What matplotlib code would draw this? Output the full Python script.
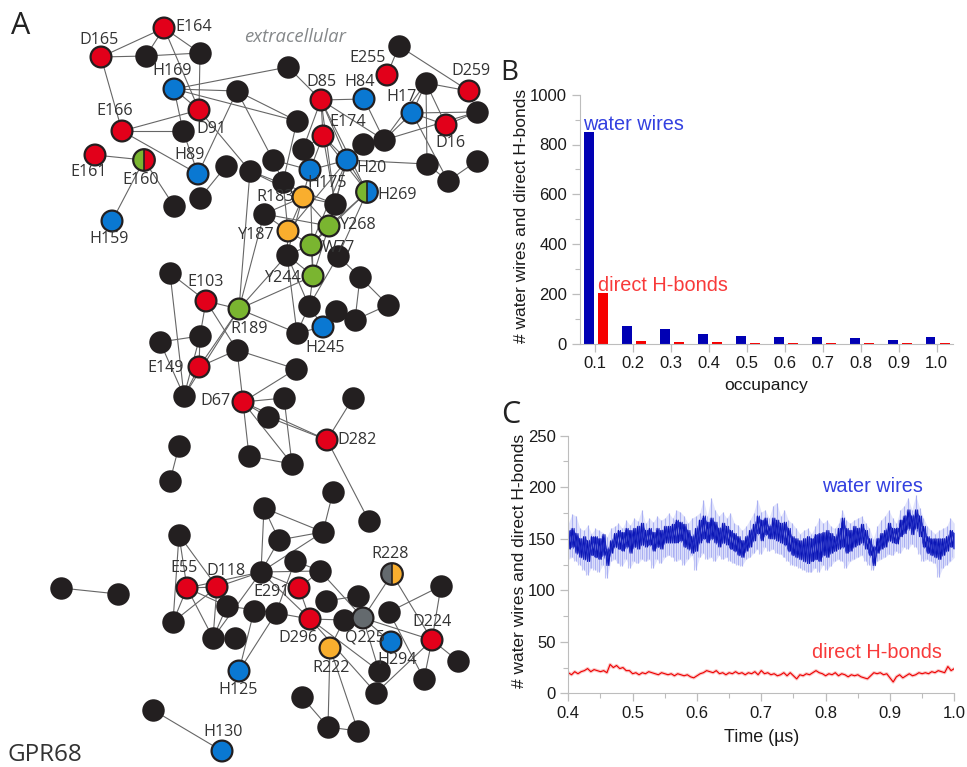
import numpy as np
import matplotlib
matplotlib.use('Agg')
import matplotlib.pyplot as plt
from matplotlib.patches import Wedge

RED = '#e2001a'
BLUE = '#0a78d2'
GREEN = '#7ab530'
ORANGE = '#f9ae2e'
GRAY = '#646a6e'
BLACK = '#231f20'

# panel A: residues, position in the picture in pixels
res_names = ['E164', 'D165', 'H169', 'D91', 'E166', 'E161', 'H89', 'H159', 'D85', 'H84', 'E174', 'H175', 'H20',
             'H17', 'D16', 'D259', 'E255', 'R183', 'Y268', 'Y187', 'W77', 'Y244', 'H245', 'R189', 'E103', 'E149',
             'D67', 'D282', 'E55', 'D118', 'E291', 'D296', 'Q225', 'D224', 'H294', 'R222', 'H125', 'H130']
res_x = [164, 101, 174, 199, 122, 95, 198, 112, 321, 364, 323, 310, 347,
         412, 446, 469, 387, 303, 329, 288, 311, 313, 323, 239, 206, 199,
         243, 327, 187, 217, 299, 310, 363, 432, 391, 330, 239, 222]
res_y = [28, 57, 89, 110, 131, 155, 174, 221, 100, 99, 136, 170, 160,
         113, 125, 91, 75, 197, 226, 231, 245, 276, 327, 309, 301, 367,
         402, 440, 588, 587, 588, 619, 618, 640, 642, 648, 671, 751]
res_colors = [RED, RED, BLUE, RED, RED, RED, BLUE, BLUE, RED, BLUE, RED, BLUE, BLUE,
              BLUE, RED, RED, RED, ORANGE, GREEN, ORANGE, GREEN, GREEN, BLUE, GREEN, RED, RED,
              RED, RED, RED, RED, RED, RED, GRAY, RED, BLUE, ORANGE, BLUE, BLUE]

# two coloured residues: name, x, y, left colour, right colour
split_names = ['E160', 'H269', 'R228']
split_x = [144, 367, 392]
split_y = [160, 192, 574]
split_left = [GREEN, GREEN, GRAY]
split_right = [RED, BLUE, ORANGE]

# unlabelled black nodes
black_x = [146, 200, 237, 288, 183, 226, 250, 200, 174, 273, 283, 297, 303, 363, 384, 477, 426, 399, 427, 448, 477,
           335, 264, 287, 338, 360, 388, 309, 336, 355, 297, 170, 200, 160, 237, 296, 184, 284, 268, 353, 249, 292,
           179, 170, 333, 369,
           264, 179, 279, 323, 295, 320, 261, 441, 61, 118, 227, 326, 358, 389, 254, 276, 173, 344, 213, 235, 379,
           458, 424, 376, 302, 328, 358, 153]
black_y = [56, 53, 91, 67, 131, 166, 171, 198, 206, 160, 182, 121, 149, 144, 140, 112, 83, 46, 164, 181, 161,
           204, 214, 255, 256, 277, 305, 306, 311, 320, 333, 273, 336, 342, 350, 369, 396, 398, 417, 398, 456, 464,
           446, 481, 492, 521,
           508, 535, 540, 532, 561, 571, 572, 586, 588, 594, 606, 601, 596, 612, 611, 613, 622, 620, 638, 638, 671,
           661, 679, 693, 697, 727, 731, 710]
black_names = ['a%d' % (i + 1) for i in range(46)] + ['b%d' % (i + 1) for i in range(28)]

edges = [('E164', 'D165'), ('E164', 'a1'), ('E164', 'a2'), ('E164', 'D91'), ('D165', 'a1'), ('a1', 'a2'), ('a2', 'D91'),
         ('D165', 'E166'), ('H169', 'a4'), ('H169', 'a3'), ('H169', 'D91'), ('H169', 'a12'), ('H169', 'a5'),
         ('a3', 'a12'), ('a3', 'a10'), ('a3', 'H89'), ('D91', 'a7'), ('E166', 'D91'), ('E166', 'a5'), ('E166', 'H89'),
         ('a5', 'H89'), ('E161', 'E160'), ('E160', 'H159'), ('E160', 'a9'), ('a6', 'a8'), ('a4', 'D85'), ('D85', 'H84'),
         ('D85', 'E174'), ('D85', 'a13'), ('D85', 'H20'), ('D85', 'a15'), ('D85', 'H269'), ('D85', 'a22'), ('H84', 'a15'),
         ('E174', 'a13'), ('E174', 'H175'), ('E174', 'H20'), ('E174', 'H269'), ('E174', 'a22'), ('a12', 'a11'),
         ('a10', 'a11'), ('a10', 'H175'), ('a7', 'a22'), ('a7', 'R189'), ('a11', 'Y187'), ('a13', 'H175'), ('H175', 'H20'),
         ('H20', 'a19'), ('H20', 'H269'), ('H20', 'a14'), ('H20', 'a22'), ('H20', 'Y268'), ('H20', 'W77'), ('H20', 'Y187'),
         ('H175', 'Y244'), ('H175', 'a24'), ('a14', 'a15'), ('a15', 'H17'), ('a15', 'a17'), ('a15', 'a16'), ('H17', 'a17'),
         ('H17', 'D16'), ('H17', 'a16'), ('H17', 'a20'), ('a17', 'D259'), ('a17', 'D16'), ('a17', 'a19'), ('a18', 'E255'),
         ('a18', 'D259'), ('D16', 'a16'), ('a20', 'a21'), ('a19', 'a20'), ('H269', 'Y268'), ('H269', 'W77'), ('H269', 'a25'),
         ('R183', 'a22'), ('R183', 'Y187'), ('R183', 'a23'), ('R183', 'Y268'), ('R183', 'a7'), ('a22', 'Y268'),
         ('a23', 'Y268'), ('a23', 'Y187'), ('a23', 'R189'), ('Y187', 'a24'), ('Y187', 'W77'), ('Y268', 'W77'), ('W77', 'a24'),
         ('a24', 'Y244'), ('a24', 'a28'), ('a24', 'a31'), ('W77', 'Y244'), ('Y268', 'Y244'), ('a25', 'a26'), ('a25', 'a28'),
         ('Y244', 'a28'), ('Y244', 'R189'), ('a24', 'R189'), ('a26', 'a27'), ('a26', 'a30'), ('a27', 'a30'), ('a28', 'H245'),
         ('a28', 'a31'), ('a29', 'H245'), ('a29', 'a30'), ('a31', 'H245'), ('a31', 'R189'), ('R189', 'E103'), ('R189', 'E149'),
         ('R189', 'a37'), ('E103', 'a32'), ('E103', 'a33'), ('E103', 'a35'), ('a32', 'a37'), ('a33', 'E149'), ('a33', 'a34'),
         ('a33', 'a37'), ('a34', 'a37'), ('a35', 'E149'), ('a35', 'a36'), ('a35', 'D67'), ('E149', 'a37'), ('D67', 'a36'),
         ('D67', 'a38'), ('D67', 'a39'), ('D67', 'D282'), ('D67', 'a41'), ('D67', 'a42'), ('a39', 'D282'), ('a38', 'a42'),
         ('a41', 'a42'), ('a40', 'D282'), ('D282', 'a46'), ('a43', 'a44'),
         ('b1', 'b3'), ('b1', 'b4'), ('b1', 'b7'), ('b2', 'E55'), ('b2', 'b17'), ('b2', 'D118'), ('b3', 'b4'), ('b3', 'b7'),
         ('a45', 'b4'), ('b4', 'b7'), ('b5', 'b6'), ('b5', 'b16'), ('b6', 'E291'), ('b7', 'b6'), ('b7', 'E55'), ('b7', 'D118'),
         ('b7', 'E291'), ('b7', 'b19'), ('b7', 'D296'), ('b9', 'b10'), ('E55', 'D118'), ('E55', 'b17'), ('E55', 'b19'),
         ('E55', 'b11'), ('D118', 'b17'), ('D118', 'b11'), ('D118', 'b19'), ('b11', 'b16'), ('b15', 'H125'), ('b16', 'H125'),
         ('b16', 'D296'), ('b19', 'b11'), ('E291', 'D296'), ('b12', 'b13'), ('b6', 'Q225'), ('b13', 'Q225'), ('b14', 'b8'),
         ('R228', 'Q225'), ('R228', 'D224'), ('D296', 'b18'), ('D296', 'b21'), ('D296', 'b24'), ('b18', 'Q225'),
         ('Q225', 'D224'), ('Q225', 'b21'), ('Q225', 'H294'), ('b14', 'b23'), ('b8', 'D224'), ('D224', 'b22'),
         ('D224', 'b23'), ('D224', 'b24'), ('R222', 'b26'), ('R222', 'b27'), ('R222', 'b18'), ('b25', 'b26'), ('b26', 'b27'),
         ('b28', 'H130')]

# where the residue names are written, pixels (centre of the text)
label_names = ['E164', 'D165', 'H169', 'D91', 'E166', 'E161', 'E160', 'H89', 'H159', 'D85', 'H84', 'E255', 'D259', 'H17',
               'E174', 'D16', 'H20', 'H175', 'H269', 'R183', 'Y268', 'Y187', 'W77', 'Y244', 'E103', 'R189', 'H245', 'E149',
               'D67', 'D282', 'R228', 'E55', 'D118', 'E291', 'D224', 'D296', 'Q225', 'H294', 'R222', 'H125', 'H130']
label_x = [194, 99, 172, 211, 115, 89, 141, 190, 109, 321, 360, 368, 471, 402,
           348, 450, 372, 327, 397, 275, 358, 256, 338, 283, 206, 249, 325, 166,
           216, 357, 390, 184, 226, 272, 432, 298, 365, 397, 331, 238, 223]
label_y = [27, 40, 71, 129, 111, 172, 180, 155, 239, 82, 82, 58, 71, 97,
           122, 143, 168, 183, 195, 197, 225, 235, 248, 278, 282, 329, 348, 368,
           401, 440, 554, 568, 571, 592, 622, 638, 638, 660, 668, 690, 732]

# panel B
occupancy = [0.1, 0.2, 0.3, 0.4, 0.5, 0.6, 0.7, 0.8, 0.9, 1.0]
wires_count = [850, 70, 60, 40, 30, 28, 25, 22, 13, 25]
bonds_count = [202, 11, 7, 5, 2, 1, 1, 2, 2, 3]

# panel C at even steps between 0.4 and 1.0
wires_light_hi = [165, 174, 172, 160, 158, 163, 155, 160, 158, 156,
                  152, 160, 162, 165, 160, 168, 163, 170, 167, 178,
                  165, 170, 166, 172, 168, 170, 175, 170, 178, 176,
                  172, 165, 170, 172, 175, 188, 172, 190, 178, 172,
                  176, 170, 175, 165, 163, 158, 162, 168, 175, 188,
                  176, 178, 170, 182, 185, 172, 178, 168, 165, 160,
                  155, 158, 160, 155, 162, 170, 165, 168, 162, 160,
                  165, 178, 168, 165, 168, 170, 172, 165, 160, 150,
                  162, 168, 172, 178, 170, 165, 178, 182, 190, 178,
                  192, 180, 170, 162, 158, 155, 158, 160, 162, 170, 165]
wires_light_lo = [130, 132, 128, 125, 120, 115, 122, 120, 118, 125,
                  112, 128, 130, 126, 124, 130, 122, 128, 126, 130,
                  128, 130, 122, 130, 126, 132, 134, 132, 128, 130,
                  125, 130, 134, 120, 132, 136, 130, 132, 128, 134,
                  130, 132, 128, 126, 125, 124, 130, 132, 136, 140,
                  135, 142, 138, 140, 136, 135, 132, 128, 125, 124,
                  122, 120, 118, 118, 122, 118, 125, 120, 124, 128,
                  130, 128, 122, 128, 130, 132, 134, 128, 125, 120,
                  128, 130, 132, 135, 134, 138, 136, 142, 140, 145,
                  142, 135, 128, 130, 128, 126, 113, 122, 125, 128, 132]
wires_dark_hi = [158, 160, 155, 150, 152, 148, 152, 152, 150, 154,
                 140, 148, 155, 158, 156, 160, 158, 160, 162, 165,
                 158, 160, 156, 160, 158, 162, 162, 164, 168, 166,
                 164, 158, 152, 160, 168, 172, 166, 170, 166, 160,
                 165, 162, 158, 155, 152, 148, 152, 158, 164, 172,
                 168, 170, 162, 170, 168, 165, 166, 160, 152, 150,
                 148, 150, 152, 150, 154, 155, 156, 158, 155, 152,
                 160, 170, 160, 158, 162, 160, 164, 158, 150, 142,
                 150, 155, 158, 165, 160, 160, 168, 172, 178, 172,
                 178, 172, 162, 152, 150, 150, 150, 150, 152, 158, 156]
wires_dark_lo = [140, 142, 136, 132, 130, 128, 134, 132, 130, 134,
                 124, 136, 142, 140, 138, 142, 136, 142, 140, 144,
                 142, 144, 138, 142, 140, 146, 146, 146, 146, 148,
                 142, 140, 136, 138, 146, 150, 146, 150, 146, 142,
                 146, 144, 140, 138, 134, 132, 138, 142, 148, 155,
                 148, 154, 150, 150, 148, 146, 144, 138, 134, 132,
                 130, 128, 126, 128, 130, 128, 134, 132, 136, 138,
                 140, 142, 136, 138, 142, 144, 146, 140, 134, 124,
                 136, 140, 142, 148, 146, 145, 152, 155, 160, 154,
                 160, 152, 142, 136, 134, 132, 130, 134, 138, 142, 140]
bonds_trace = [20, 18, 21, 19, 21, 22, 24, 21, 23, 22,
               21, 22, 20, 28, 25, 27, 24, 25, 22, 22,
               19, 20, 18, 20, 19, 21, 20, 19, 18, 20,
               19, 18, 19, 17, 19, 18, 17, 18, 16, 15,
               17, 19, 20, 22, 21, 20, 22, 19, 20, 18,
               20, 19, 21, 19, 20, 18, 20, 19, 21, 18,
               22, 19, 20, 18, 19, 17, 18, 20, 17, 20,
               17, 14, 18, 17, 19, 18, 20, 22, 20, 19,
               17, 19, 18, 20, 17, 19, 18, 16, 18, 17,
               18, 16, 15, 14, 17, 20, 19, 20, 18, 19,
               15, 11, 16, 18, 15, 17, 19, 17, 18, 20,
               19, 20, 19, 21, 20, 22, 21, 20, 26, 22, 24]

fig = plt.figure(figsize=(9.67, 7.67), dpi=100)
W, H = 967.0, 767.0


def axes_from_pixels(left, top, right, bottom):
    return fig.add_axes([left / W, 1 - bottom / H, (right - left) / W, (bottom - top) / H])


# ---- panel A
ax = fig.add_axes([0, 0, 1, 1])
ax.set_xlim(0, W)
ax.set_ylim(H, 0)
ax.axis('off')

pos = {}
for n, x, y in zip(res_names + split_names + black_names, res_x + split_x + black_x, res_y + split_y + black_y):
    pos[n] = (x, y)

for a, b in edges:
    ax.plot([pos[a][0], pos[b][0]], [pos[a][1], pos[b][1]], color='#666666', lw=0.8, zorder=1)

ax.scatter(black_x, black_y, s=262, color=BLACK, linewidths=0, zorder=2)
ax.scatter(res_x, res_y, s=225, color=res_colors, edgecolors=BLACK, linewidths=1.6, zorder=3)

for x, y, cl, cr in zip(split_x, split_y, split_left, split_right):
    ax.add_patch(Wedge((x, y), 10.8, 90, 270, facecolor=cl, edgecolor='none', zorder=3))
    ax.add_patch(Wedge((x, y), 10.8, 270, 90, facecolor=cr, edgecolor='none', zorder=3))
    ax.plot([x, x], [y - 10, y + 10], color=BLACK, lw=1.2, zorder=4)
    ax.add_patch(plt.Circle((x, y), 10.8, fill=False, edgecolor=BLACK, lw=1.6, zorder=4))

for t, x, y in zip(label_names, label_x, label_y):
    ax.text(x, y, t, ha='center', va='center', fontsize=11.6, color='#333333', family='Open Sans', zorder=5)

ax.text(295, 37, 'extracellular', ha='center', va='center', fontsize=13.3, style='italic', color='#85888a', family='Open Sans')
ax.text(21, 26, 'A', ha='center', va='center', fontsize=22, color='#222222', family='Open Sans')
ax.text(509, 73, 'B', ha='center', va='center', fontsize=20, color='#222222', family='Open Sans')
ax.text(511, 415, 'C', ha='center', va='center', fontsize=22, color='#222222', family='Open Sans')
ax.text(45, 755, 'GPR68', ha='center', va='center', fontsize=17.5, color='#333333', family='Open Sans')

plt.rcParams['font.family'] = ['Liberation Sans', 'DejaVu Sans']
TEXT = '#1a1a1a'
AXIS = '#bdbdbd'

# ---- panel B
axb = axes_from_pixels(579.5, 94.7, 953, 343.7)
axb.patch.set_alpha(0)
x = np.array(occupancy)
axb.bar(x - 0.016, wires_count, width=0.0256, color='#0000b4')
axb.bar(x + 0.021, bonds_count, width=0.0256, color='#f60000')
axb.set_xlim(0.0583, 1.043)
axb.set_ylim(0, 1000)
axb.set_xticks(occupancy)
axb.set_xticklabels(['%.1f' % v for v in occupancy])
axb.set_yticks([0, 200, 400, 600, 800, 1000])
axb.set_yticks([100, 300, 500, 700, 900], minor=True)
axb.set_xlabel('occupancy', fontsize=12.6, color=TEXT, labelpad=5)
axb.text(0.0675, 860, 'water wires', fontsize=14.3, color='#3340e0', va='baseline')
axb.text(0.107, 212, 'direct H-bonds', fontsize=14.3, color='#f83a3a', va='baseline')

# ---- panel C
axc = axes_from_pixels(568.3, 435.7, 954.3, 693.3)
axc.patch.set_alpha(0)
t = np.linspace(0.4, 1.0, len(wires_light_hi))
half = (t[1] - t[0]) / 2
axc.fill_between(t, wires_light_lo, wires_light_hi, color='#e2e4fc', linewidth=0)
axc.vlines(t, wires_light_lo, wires_light_hi, color='#a9aff2', lw=0.8)
axc.vlines(t[:-1] + half, wires_light_lo[1:], wires_dark_hi[1:], color='#c0c4f6', lw=0.8)
axc.fill_between(t, wires_dark_lo, wires_dark_hi, color='#4a55d8', linewidth=0)
t_zig = np.ravel(np.column_stack([t, t + half]))[:-1]
dark_zig = np.ravel(np.column_stack([wires_dark_hi, wires_dark_lo]))[:-1]
dark_zag = np.ravel(np.column_stack([wires_dark_lo, wires_dark_hi]))[:-1]
axc.plot(t_zig, dark_zig, color='#0a14b4', lw=0.9)
axc.plot(t_zig, dark_zag, color='#1a26c0', lw=0.8)

t2 = np.linspace(0.4, 1.0, len(bonds_trace))
axc.plot(t2, bonds_trace, color='#f8a0a0', lw=2.4, alpha=0.6)
axc.plot(t2, bonds_trace, color='#ee0000', lw=0.8)

axc.set_xlim(0.4, 1.0)
axc.set_ylim(0, 250)
axc.set_xticks([0.4, 0.5, 0.6, 0.7, 0.8, 0.9, 1.0])
axc.set_xticklabels(['0.4', '0.5', '0.6', '0.7', '0.8', '0.9', '1.0'])
axc.set_xticks([0.45, 0.55, 0.65, 0.75, 0.85, 0.95], minor=True)
axc.set_yticks([0, 50, 100, 150, 200, 250])
axc.set_yticks([25, 75, 125, 175, 225], minor=True)
axc.set_xlabel('Time (µs)', fontsize=12.9, color=TEXT, labelpad=6)
axc.text(0.794, 195, 'water wires', fontsize=14.3, color='#3340e0', va='baseline')
axc.text(0.779, 34, 'direct H-bonds', fontsize=14.3, color='#f83a3a', va='baseline')

for a in [axb, axc]:
    a.spines['top'].set_visible(False)
    a.spines['right'].set_visible(False)
    a.spines['left'].set_color(AXIS)
    a.spines['bottom'].set_color(AXIS)
    a.tick_params(axis='both', which='major', labelsize=12, colors=AXIS, labelcolor=TEXT, length=6, width=0.9, pad=3)
    a.tick_params(axis='both', which='minor', colors=AXIS, length=3.5, width=0.8)

fig.text(521 / W, 1 - 216 / H, '# water wires and direct H-bonds', rotation=90, fontsize=12.55, color=TEXT, ha='center', va='center')
fig.text(519 / W, 1 - 561 / H, '# water wires and direct H-bonds', rotation=90, fontsize=12.55, color=TEXT, ha='center', va='center')

fig.savefig('out.png', dpi=100)
